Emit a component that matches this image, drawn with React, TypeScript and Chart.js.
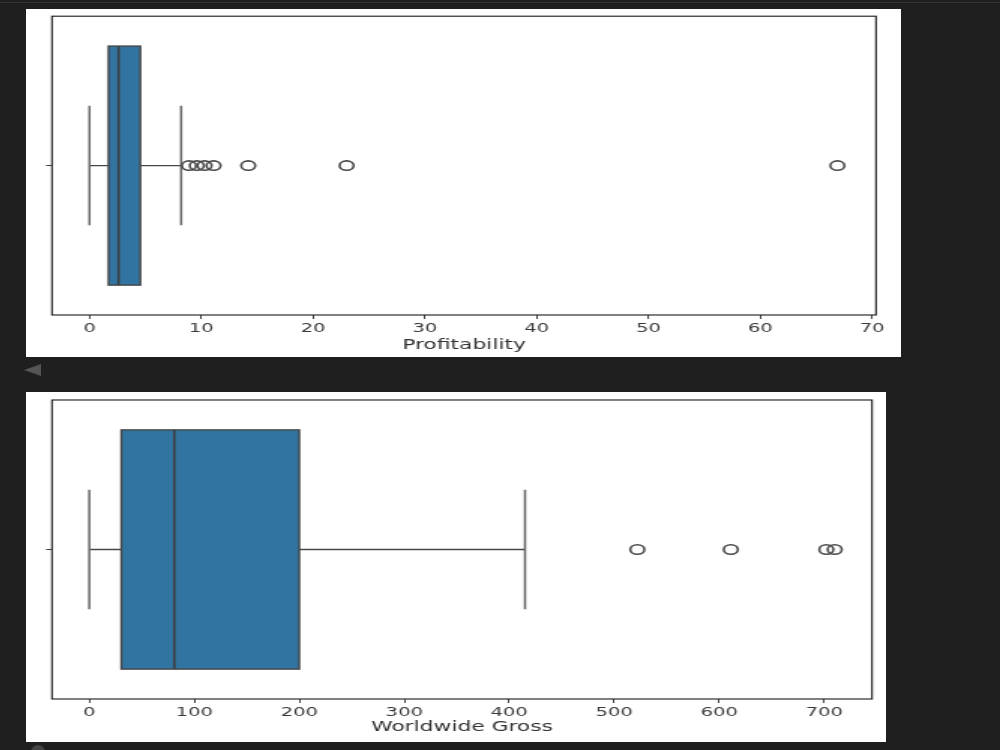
import React, { useEffect, useRef } from "react";
import { Chart, registerables } from "chart.js";
Chart.register(...registerables);

// Profitability box stats: [lower whisker, Q1, median, Q3, upper whisker]
const profitStats = [0, 1.7, 2.6, 4.55, 8.2];
const profitOutliers = [8.9, 9.6, 10.3, 11.1, 14.2, 23.0, 66.9];
const profitTicks = [0, 10, 20, 30, 40, 50, 60, 70];
const profitRange = [-3.35, 70.35];

// Worldwide Gross box stats
const grossStats = [0, 30.5, 81, 200, 415];
const grossOutliers = [522, 611, 702, 710];
const grossTicks = [0, 100, 200, 300, 400, 500, 600, 700];
const grossRange = [-35.5, 745.5];

const FONT = "'DejaVu Sans', 'Liberation Sans', sans-serif";
const BOX_FILL = "#3274a1";
const LINE = "#474747";
const STRETCH = 1.5; // the reference figure is stretched horizontally

interface BoxProps {
  cssWidth: number;
  height: number;
  stats: number[];
  outliers: number[];
  ticks: number[];
  range: number[];
  title: string;
  areaLeft: number; // css px
  padRight: number; // css px
  padTop: number;
  axisHeight: number;
  titlePadBottom: number;
}

function BoxChart(p: BoxProps) {
  const ref = useRef<HTMLCanvasElement>(null);
  const canvasWidth = Math.round(p.cssWidth / STRETCH);
  const s = p.cssWidth / canvasWidth;
  useEffect(() => {
    const canvas = ref.current!;
    const stats = p.stats;
    const boxPlugin = {
      id: "boxdraw",
      beforeDatasetsDraw(chart: any) {
        const ctx = chart.ctx;
        const xs = chart.scales.x;
        const ys = chart.scales.y;
        const [lo, q1, med, q3, hi] = stats;
        const px = (v: number) => xs.getPixelForValue(v);
        const py = (v: number) => ys.getPixelForValue(v);
        ctx.save();
        const x1 = px(q1), x2 = px(q3);
        const yt = py(0.4), yb = py(-0.4);
        const top = Math.min(yt, yb), h = Math.abs(yb - yt);
        ctx.fillStyle = BOX_FILL;
        ctx.fillRect(x1, top, x2 - x1, h);
        ctx.strokeStyle = LINE;
        ctx.lineWidth = 1.4;
        ctx.strokeRect(x1, top, x2 - x1, h);
        const yc = py(0);
        ctx.lineWidth = 1.3;
        ctx.beginPath();
        ctx.moveTo(px(lo), yc);
        ctx.lineTo(x1, yc);
        ctx.moveTo(x2, yc);
        ctx.lineTo(px(hi), yc);
        ctx.stroke();
        ctx.lineWidth = 1.5;
        ctx.strokeStyle = "#666";
        ctx.beginPath();
        ctx.moveTo(px(lo), py(0.2));
        ctx.lineTo(px(lo), py(-0.2));
        ctx.moveTo(px(hi), py(0.2));
        ctx.lineTo(px(hi), py(-0.2));
        ctx.stroke();
        ctx.strokeStyle = "#3c3c3c";
        ctx.lineWidth = 1.5;
        ctx.beginPath();
        ctx.moveTo(px(med), top);
        ctx.lineTo(px(med), top + h);
        ctx.stroke();
        ctx.restore();
      },
      afterDraw(chart: any) {
        const a = chart.chartArea;
        const ctx = chart.ctx;
        ctx.save();
        ctx.strokeStyle = "#1a1a1a";
        ctx.lineWidth = 1.1;
        ctx.strokeRect(a.left, a.top, a.right - a.left, a.bottom - a.top);
        ctx.restore();
      },
    };
    const chart = new Chart(canvas, {
      type: "scatter",
      data: {
        datasets: [
          {
            data: p.outliers.map((v) => ({ x: v, y: 0 })),
            pointStyle: "circle",
            pointRadius: 4.7,
            borderWidth: 1.6,
            borderColor: "#4a4a4a",
            backgroundColor: "rgba(0,0,0,0)",
          },
        ],
      },
      options: {
        animation: false,
        responsive: false,
        devicePixelRatio: 1,
        layout: { padding: { left: 0, right: p.padRight / s, top: p.padTop, bottom: 0 } },
        plugins: { legend: { display: false }, tooltip: { enabled: false } },
        scales: {
          x: {
            type: "linear",
            min: p.range[0],
            max: p.range[1],
            afterBuildTicks: (sc: any) => {
              sc.ticks = p.ticks.map((v) => ({ value: v }));
            },
            afterFit: (sc: any) => {
              sc.height = p.axisHeight;
            },
            border: { display: false },
            grid: { drawOnChartArea: false, drawTicks: true, tickLength: 4, color: "#444", lineWidth: 1 },
            ticks: {
              autoSkip: false,
              maxRotation: 0,
              padding: 2,
              color: "#3a3a3a",
              font: { family: FONT, size: 13 },
              callback: (v: any) => String(v),
            },
            title: {
              display: true,
              text: p.title,
              color: "#333",
              font: { family: FONT, size: 14.5 },
              padding: { top: 0, bottom: p.titlePadBottom },
            },
          },
          y: {
            type: "linear",
            min: -0.5,
            max: 0.5,
            afterBuildTicks: (sc: any) => {
              sc.ticks = [{ value: 0 }];
            },
            afterFit: (sc: any) => {
              sc.width = p.areaLeft / s;
            },
            border: { display: false },
            grid: { drawOnChartArea: false, drawTicks: true, tickLength: 6 / s, color: "#444" },
            ticks: { callback: () => "", padding: 0 },
          },
        },
      },
      plugins: [boxPlugin],
    } as any);
    return () => chart.destroy();
  }, []);
  return (
    <canvas
      ref={ref}
      width={canvasWidth}
      height={p.height}
      style={{ display: "block", width: p.cssWidth + "px", height: p.height + "px" }}
    />
  );
}

export default function App() {
  return (
    <div style={{ position: "absolute", left: 0, top: 0, width: 1000, height: 750, background: "#1f1f1f", overflow: "hidden" }}>
      <div style={{ position: "absolute", left: 0, top: 2, width: 1000, height: 1, background: "#333" }} />
      <div style={{ position: "absolute", left: 26, top: 9, width: 875, height: 348, background: "#fff" }}>
        <BoxChart
          cssWidth={875}
          height={348}
          stats={profitStats}
          outliers={profitOutliers}
          ticks={profitTicks}
          range={profitRange}
          title="Profitability"
          areaLeft={26}
          padRight={25}
          padTop={7}
          axisHeight={42}
          titlePadBottom={3}
        />
      </div>
      <div
        style={{
          position: "absolute",
          left: 24,
          top: 364,
          width: 0,
          height: 0,
          borderTop: "6px solid transparent",
          borderBottom: "6px solid transparent",
          borderRight: "17px solid #555",
        }}
      />
      <div style={{ position: "absolute", left: 26, top: 392, width: 860, height: 350, background: "#fff" }}>
        <BoxChart
          cssWidth={860}
          height={350}
          stats={grossStats}
          outliers={grossOutliers}
          ticks={grossTicks}
          range={grossRange}
          title="Worldwide Gross"
          areaLeft={26}
          padRight={14}
          padTop={8}
          axisHeight={43}
          titlePadBottom={6}
        />
      </div>
      <div style={{ position: "absolute", left: 31, top: 745, width: 14, height: 14, borderRadius: 7, background: "#444" }} />
    </div>
  );
}
